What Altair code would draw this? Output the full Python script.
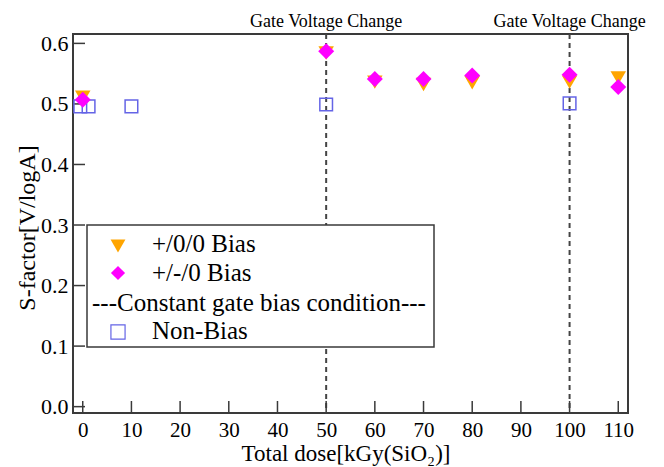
import altair as alt
import pandas as pd

# ---- data ----
dose_a = [0, 50, 60, 70, 80, 100, 110]
sf_a = [0.511, 0.584, 0.536, 0.532, 0.535, 0.536, 0.543]          # +/0/0 Bias
dose_b = [0, 50, 60, 70, 80, 100, 110]
sf_b = [0.507, 0.587, 0.541, 0.541, 0.547, 0.548, 0.528]          # +/-/0 Bias
dose_nb = [-0.5, 1.2, 10, 50, 100]
sf_nb = [0.496, 0.496, 0.496, 0.499, 0.501]                       # Non-Bias
gate_dose = [50, 100]
gate_label = ["Gate Voltage Change", "Gate Voltage Change"]
x_ticks = [0, 10, 20, 30, 40, 50, 60, 70, 80, 90, 100, 110]
y_ticks = [0.0, 0.1, 0.2, 0.3, 0.4, 0.5, 0.6]
legend_labels = ["+/0/0 Bias", "+/-/0 Bias", "---Constant gate bias condition---", "Non-Bias"]
x_title = "Total dose[kGy(SiO\u2082)]"
y_title = "S-factor[V/logA]"

FONT = "Liberation Serif"
W, H = 555, 379
ORANGE = "#FFA500"
MAGENTA = "#FF00FF"
BLUE = "#6464E6"
FRAME = "#3a3a3a"

xs = alt.Scale(domain=[-2, 112], nice=False, zero=False)
ys = alt.Scale(domain=[-0.0105, 0.6155], nice=False, zero=False)

df_a = pd.DataFrame({"dose": dose_a, "sf": sf_a})
df_b = pd.DataFrame({"dose": dose_b, "sf": sf_b})
df_nb = pd.DataFrame({"dose": dose_nb, "sf": sf_nb})
df_gate = pd.DataFrame({"dose": gate_dose, "label": gate_label})
df_xt = pd.DataFrame({"t": x_ticks})
df_yt = pd.DataFrame({"t": y_ticks})
one = pd.DataFrame({"a": [0]})

x_axis = alt.Axis(values=x_ticks, format="d", title=None, ticks=False, tickSize=0,
                  domain=False, grid=False, labelFont=FONT, labelFontSize=21,
                  labelColor="black", labelPadding=6)
y_axis = alt.Axis(values=y_ticks, format=".1f", title=None, ticks=False, tickSize=0,
                  domain=False, grid=False, labelFont=FONT, labelFontSize=22,
                  labelColor="black", labelPadding=5)

base_axes = alt.Chart(df_a).mark_point(opacity=0).encode(
    x=alt.X("dose:Q", scale=xs, axis=x_axis),
    y=alt.Y("sf:Q", scale=ys, axis=y_axis),
)

gate_lines = alt.Chart(df_gate).mark_rule(color="#444444", strokeWidth=2, strokeDash=[5, 4]).encode(
    x=alt.X("dose:Q", scale=xs)
)
gate_text = alt.Chart(df_gate).mark_text(font=FONT, fontSize=18, color="black",
                                         baseline="alphabetic", align="center").encode(
    x=alt.X("dose:Q", scale=xs), y=alt.value(-7), text="label:N"
)

xtick = alt.Chart(df_xt).mark_rule(color=FRAME, strokeWidth=1.5).encode(
    x=alt.X("t:Q", scale=xs), y=alt.value(H), y2=alt.value(H - 12)
)
ytick = alt.Chart(df_yt).mark_rule(color=FRAME, strokeWidth=1.5).encode(
    y=alt.Y("t:Q", scale=ys), x=alt.value(0), x2=alt.value(12)
)

pts_nb = alt.Chart(df_nb).mark_point(shape="square", size=160, filled=False,
                                     color=BLUE, strokeWidth=1.5, opacity=1).encode(
    x=alt.X("dose:Q", scale=xs), y=alt.Y("sf:Q", scale=ys)
)
pts_a = alt.Chart(df_a).mark_point(shape="triangle-down", size=240, filled=True,
                                   color=ORANGE, opacity=1).encode(
    x=alt.X("dose:Q", scale=xs), y=alt.Y("sf:Q", scale=ys)
)
pts_b = alt.Chart(df_b).mark_point(shape="diamond", size=256, filled=True,
                                   color=MAGENTA, opacity=1).encode(
    x=alt.X("dose:Q", scale=xs), y=alt.Y("sf:Q", scale=ys)
)

# ---- legend box (drawn by hand to reproduce the special text line) ----
leg_box = alt.Chart(one).mark_rect(fill="white", stroke=FRAME, strokeWidth=1.5).encode(
    x=alt.value(14), x2=alt.value(361), y=alt.value(191), y2=alt.value(313)
)
leg_sym_a = alt.Chart(one).mark_point(shape="triangle-down", size=220, filled=True,
                                      color=ORANGE, opacity=1).encode(
    x=alt.value(45), y=alt.value(212))
leg_sym_b = alt.Chart(one).mark_point(shape="diamond", size=200, filled=True,
                                      color=MAGENTA, opacity=1).encode(
    x=alt.value(45), y=alt.value(239))
leg_sym_nb = alt.Chart(one).mark_point(shape="square", size=200, filled=False,
                                       color=BLUE, strokeWidth=1.2, opacity=1).encode(
    x=alt.value(45), y=alt.value(298))

def leg_text(label, x, y):
    return alt.Chart(one).mark_text(font=FONT, fontSize=25, color="black",
                                    align="left", baseline="middle", text=label).encode(
        x=alt.value(x), y=alt.value(y))

leg_t1 = leg_text(legend_labels[0], 79, 210)
leg_t2 = leg_text(legend_labels[1], 79, 239)
leg_t3 = leg_text(legend_labels[2], 19, 269)
leg_t4 = leg_text(legend_labels[3], 79, 297)

# ---- axis titles ----
xt = alt.Chart(one).mark_text(font=FONT, fontSize=23, color="black", align="center",
                              baseline="alphabetic", text=x_title).encode(
    x=alt.value(273), y=alt.value(427))
yt = alt.Chart(one).mark_text(font=FONT, fontSize=24, color="black", align="center",
                              baseline="middle", angle=270, text=y_title).encode(
    x=alt.value(-45), y=alt.value(194))

chart = alt.layer(
    base_axes, gate_lines, gate_text, xtick, ytick,
    pts_nb, pts_a, pts_b,
    leg_box, leg_sym_a, leg_sym_b, leg_sym_nb, leg_t1, leg_t2, leg_t3, leg_t4,
    xt, yt,
).properties(
    width=W, height=H,
    autosize=alt.AutoSizeParams(type="none"),
    padding={"left": 73, "top": 34, "right": 36, "bottom": 54},
    background="white",
).configure_view(stroke=FRAME, strokeWidth=2)

chart.save("out.html", embed_options={"renderer": "svg", "actions": False})
